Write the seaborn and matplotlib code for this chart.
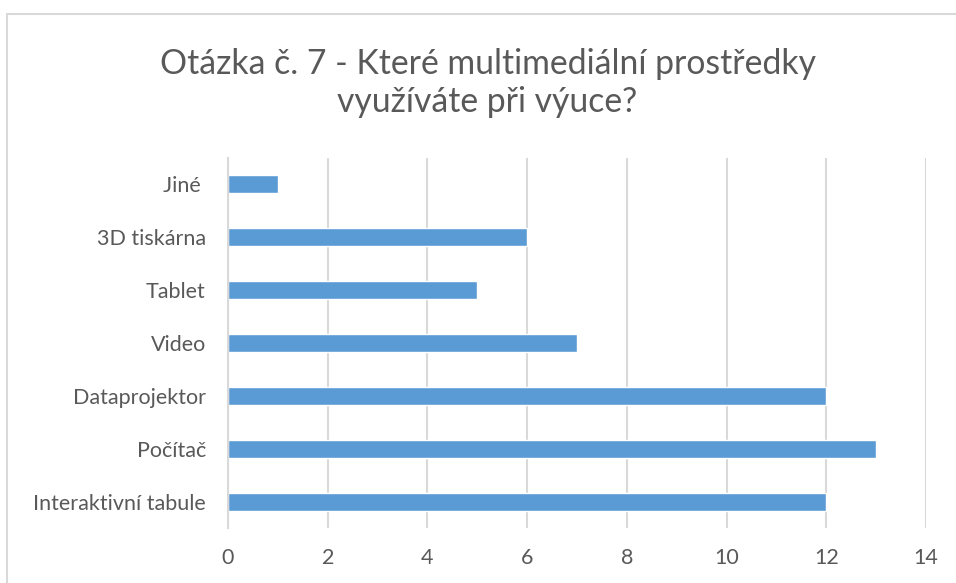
import numpy as np
import pandas as pd
import matplotlib.pyplot as plt
import seaborn as sns
from matplotlib.patches import Rectangle

# données
kategorie = ['Jiné ', '3D tiskárna', 'Tablet', 'Video', 'Dataprojektor', 'Počítač', 'Interaktivní tabule']
pocet = [1, 6, 5, 7, 12, 13, 12]
titulek = 'Otázka č. 7 - Které multimediální prostředky\nvyužíváte při výuce?'

df = pd.DataFrame({'kategorie': kategorie, 'pocet': pocet})

sns.set_style('white')
plt.rcParams['font.family'] = ['Lato', 'DejaVu Sans']

sedy = '#595959'
mrizka = '#d9d9d9'

fig = plt.figure(figsize=(9.56, 5.83), dpi=100)
ax = fig.add_axes([0.2385, 0.094, 0.7301, 0.635])

sns.barplot(data=df, x='pocet', y='kategorie', order=kategorie, color='#5b9bd5',
            saturation=1, width=0.34, ax=ax)

ax.set_xlim(0, 14)
ax.set_ylim(6.5, -0.5)
ax.set_xticks(range(0, 15, 2))
ax.grid(axis='x', color=mrizka, linewidth=1.5)
ax.set_axisbelow(True)
for s in ['top', 'right', 'bottom']:
    ax.spines[s].set_visible(False)
ax.spines['left'].set_color(mrizka)
ax.spines['left'].set_linewidth(1.5)
ax.tick_params(axis='both', length=0, labelsize=15.5, colors=sedy)
ax.tick_params(axis='y', pad=16)
ax.tick_params(axis='x', pad=14)
ax.set_xlabel('')
ax.set_ylabel('')

fig.text(0.51, 0.858, titulek, ha='center', va='center', fontsize=24.3,
         color=sedy, linespacing=1.25)

# cadre du graphique (coupé à droite et en bas)
fig.add_artist(Rectangle((7 / 956, -0.05), 1.1, 1.05 - 14 / 583, transform=fig.transFigure,
                         fill=False, edgecolor=mrizka, linewidth=1.5))

fig.savefig('out.png', dpi=100)
